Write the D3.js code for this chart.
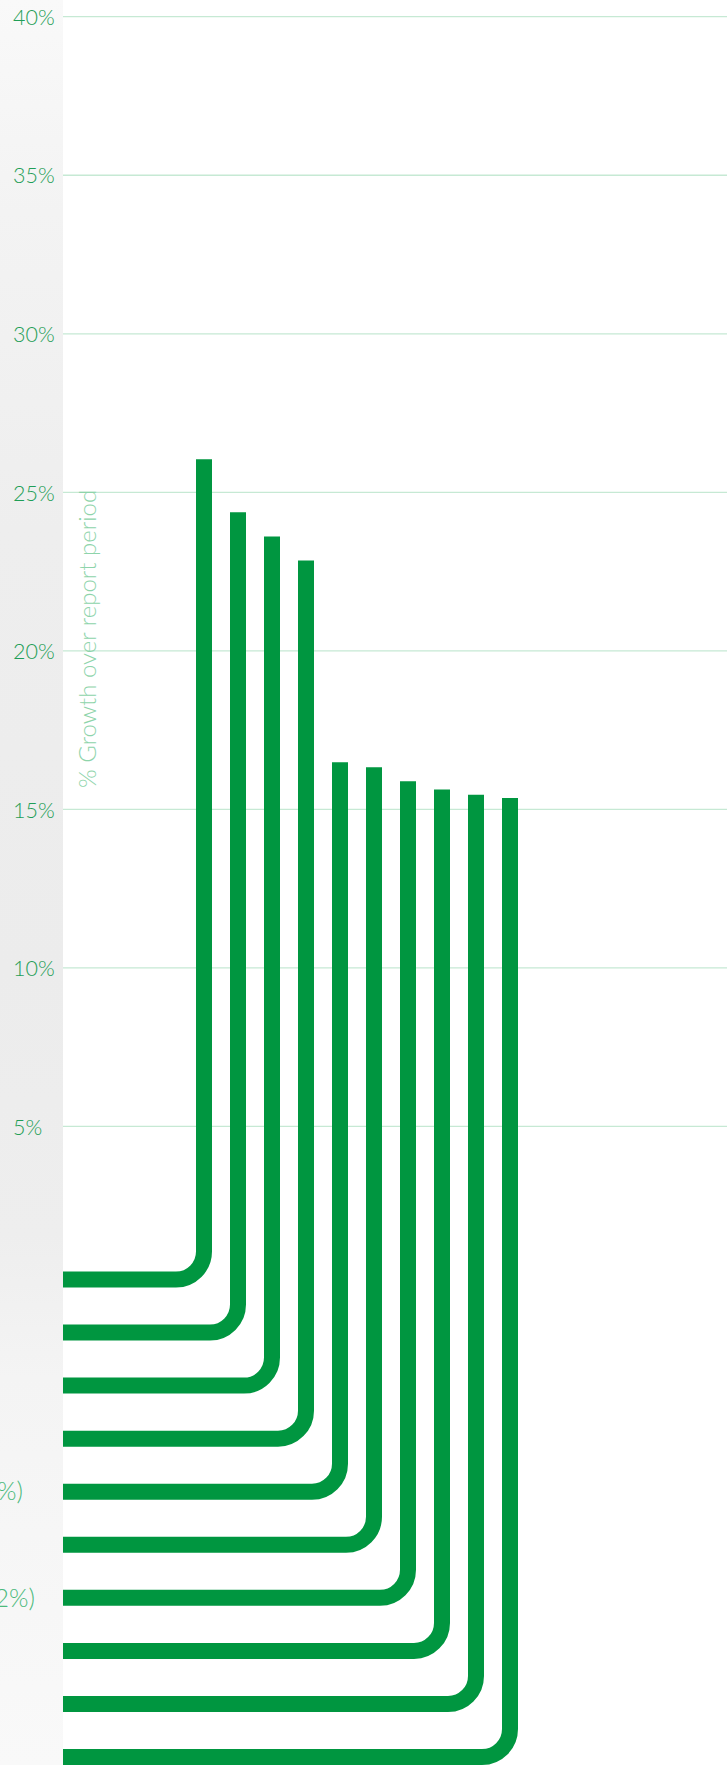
<!DOCTYPE html>
<html>
<head>
<meta charset="utf-8">
<script src="https://cdn.jsdelivr.net/npm/d3@7"></script>
<style>
  body { margin: 0; background: #fff; }
  svg { display: block; font-family: Lato, "Open Sans", sans-serif; }
</style>
</head>
<body>
<div id="chart"></div>
<script>
// Chart data
const categories = ["c1", "c2", "c3", "c4", "c5", "c6", "c7", "c8", "c9", "c10"];
const growth = [26.04, 24.37, 23.61, 22.85, 16.49, 16.33, 15.89, 15.63, 15.46, 15.36];
const yTicks = [5, 10, 15, 20, 25, 30, 35, 40];
// only the ends of two row labels are visible past the left edge
const labelTails = ["", "", "", "", "%)", "", "2%)", "", "", ""];
const axisTitle = "% Growth over report period";

const width = 727, height = 1765;
const panelW = 63;
const green = "#009640";

let svg = d3.select("#chart").append("svg")
    .attr("width", width)
    .attr("height", height);

// Scales
let y = d3.scaleLinear().domain([0, 40]).range([1285, 16.7]);
let x = d3.scalePoint().domain(categories).range([204, 510]);
let row = d3.scalePoint().domain(categories).range([1279.5, 1757]);

let data = categories.map((c, i) => ({ cat: c, value: growth[i], tail: labelTails[i] }));

// Left panel (light grey backdrop)
let defs = svg.append("defs");
let grad = defs.append("linearGradient")
    .attr("id", "panelGrad")
    .attr("x1", 0).attr("y1", 0).attr("x2", 0).attr("y2", 1);
[[0, "#f9f9f9"], [0.12, "#f3f3f3"], [0.3, "#eeeeee"], [0.55, "#ececec"],
 [0.7, "#eeeeee"], [0.78, "#f4f4f4"], [1, "#f9f9f9"]].forEach(s => {
    grad.append("stop").attr("offset", s[0]).attr("stop-color", s[1]);
});

// Gridlines
svg.append("g")
    .attr("transform", `translate(${panelW},0)`)
    .selectAll("line")
    .data(yTicks)
    .join("line")
    .attr("x1", 0).attr("x2", width - panelW)
    .attr("y1", d => y(d)).attr("y2", d => y(d))
    .attr("stroke", "#c6e9d4")
    .attr("stroke-width", 1.3);

// Axis title
svg.append("text")
    .attr("transform", `translate(96,788) rotate(-90)`)
    .attr("fill", "#8ed4aa")
    .style("font-size", "24px")
    .style("font-weight", 300)
    .text(axisTitle);

// Elbow bars: horizontal from the left, rounded corner, then up to the value
const r = 28;
svg.append("g").selectAll("path")
    .data(data)
    .join("path")
    .attr("d", d => {
        let cx = x(d.cat), cy = row(d.cat), top = y(d.value);
        return `M0,${cy} H${cx - r} A${r},${r} 0 0 0 ${cx},${cy - r} V${top}`;
    })
    .attr("fill", "none")
    .attr("stroke", green)
    .attr("stroke-width", 16);

// the panel sits over the start of the horizontal strokes
svg.append("rect")
    .attr("x", 0).attr("y", 0)
    .attr("width", panelW).attr("height", height)
    .attr("fill", "url(#panelGrad)");

// Tick labels
let axis = d3.axisLeft(y)
    .tickValues(yTicks)
    .tickFormat(d => d + "%")
    .tickSize(0);

let gAxis = svg.append("g")
    .attr("transform", `translate(${panelW},0)`)
    .call(axis);
gAxis.select(".domain").remove();
gAxis.selectAll(".tick text")
    .attr("x", 13 - panelW)
    .attr("dy", "0.36em")
    .attr("text-anchor", "start")
    .attr("fill", "#1f9e57")
    .style("font-size", "21.5px")
    .style("font-weight", 300)
    .style("font-family", "Lato, sans-serif");

// Row label tails
svg.append("g").selectAll("text")
    .data(data.filter(d => d.tail))
    .join("text")
    .attr("x", d => d.tail.length > 2 ? 35 : 23)
    .attr("y", d => row(d.cat))
    .attr("dy", "0.35em")
    .attr("text-anchor", "end")
    .attr("fill", "#4cba7c")
    .style("font-size", "25px")
    .style("font-weight", 300)
    .text(d => d.tail);
</script>
</body>
</html>
